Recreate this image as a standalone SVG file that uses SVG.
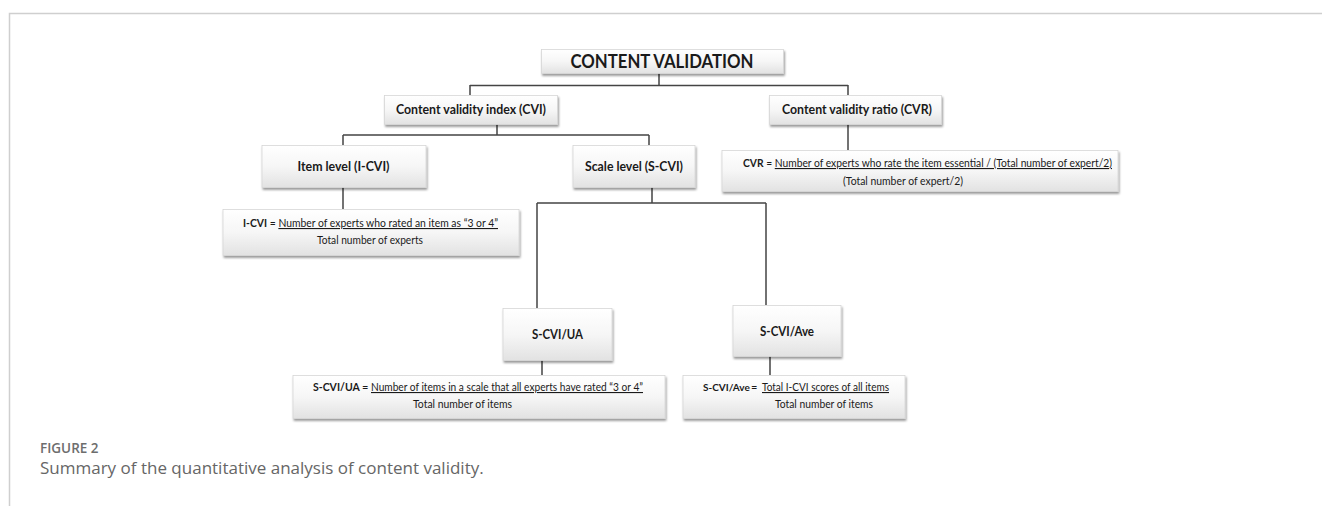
<svg xmlns="http://www.w3.org/2000/svg" width="1322" height="506" viewBox="0 0 1322 506">
<defs>
<linearGradient id="g" x1="0" y1="0" x2="0" y2="1">
<stop offset="0" stop-color="#ffffff"/>
<stop offset="0.5" stop-color="#f6f6f6"/>
<stop offset="1" stop-color="#e2e2e2"/>
</linearGradient>
<filter id="sh" x="-10%" y="-20%" width="120%" height="150%">
<feDropShadow dx="1" dy="2" stdDeviation="1" flood-color="#000" flood-opacity="0.4"/>
</filter>
</defs>
<style>
.box{fill:url(#g);stroke:#d6d6d6;stroke-width:0.8;filter:url(#sh)}
.h{font-family:Lato,"Open Sans",sans-serif;font-weight:bold;fill:#1a1a1a;text-anchor:middle}
.f{font-family:Lato,"Open Sans",sans-serif;font-size:11px;fill:#1a1a1a}
.b{font-weight:bold}
.u{text-decoration:underline}
.c{fill:none;stroke:#444;stroke-width:1.5}
.frame{fill:none;stroke:#cfcfcf;stroke-width:1.5}
.cap1{font-family:"Open Sans",sans-serif;font-size:13.5px;font-weight:600;fill:#6d6d6d}
.cap2{font-family:"Open Sans",sans-serif;font-size:17px;fill:#666}
</style>
<rect width="1322" height="506" fill="#fff"/>
<path class="frame" d="M9.5 506V13.5H1322"/>
<g id="connectors">
<path class="c" d="M659 73V85.5M470 85.5H848M470 85V95M848 85V95"/>
<path class="c" d="M497 124V135M343 135H649M343 135V145M649 135V145"/>
<path class="c" d="M848 124V150"/>
<path class="c" d="M343 187V209"/>
<path class="c" d="M652 187V203M537 203H766M537 203V308M766 203V305"/>
<path class="c" d="M542 360V375M770 356V375"/>
</g>
<g id="content-validation">
<rect class="box" x="541.5" y="49.5" width="242" height="24"/>
<text class="h" x="662" y="67.5" font-size="18" textLength="183" lengthAdjust="spacingAndGlyphs">CONTENT VALIDATION</text>
</g>
<g id="cvi">
<rect class="box" x="384.5" y="95.5" width="173" height="29"/>
<text class="h" x="471" y="113.5" font-size="13" textLength="150" lengthAdjust="spacingAndGlyphs">Content validity index (CVI)</text>
</g>
<g id="cvr">
<rect class="box" x="769.5" y="95.5" width="172" height="29"/>
<text class="h" x="857" y="113.5" font-size="13" textLength="150" lengthAdjust="spacingAndGlyphs">Content validity ratio (CVR)</text>
</g>
<g id="item-level">
<rect class="box" x="262" y="145.5" width="164" height="42"/>
<text class="h" x="343.5" y="170.5" font-size="13" textLength="92" lengthAdjust="spacingAndGlyphs">Item level (I-CVI)</text>
</g>
<g id="scale-level">
<rect class="box" x="573" y="145.5" width="122" height="42"/>
<text class="h" x="634" y="170.5" font-size="13" textLength="98" lengthAdjust="spacingAndGlyphs">Scale level (S-CVI)</text>
</g>
<g id="cvr-formula">
<rect class="box" x="722" y="150.5" width="396" height="41"/>
<text class="f" x="743" y="167" textLength="369" lengthAdjust="spacingAndGlyphs"><tspan class="b">CVR</tspan> = <tspan class="u">Number of experts who rate the item essential / (Total number of expert/2)</tspan></text>
<text class="f" x="843" y="185" textLength="120" lengthAdjust="spacingAndGlyphs">(Total number of expert/2)</text>
</g>
<g id="icvi-formula">
<rect class="box" x="223" y="209.5" width="296" height="46"/>
<text class="f" x="243" y="227" textLength="255" lengthAdjust="spacingAndGlyphs"><tspan class="b">I-CVI</tspan> = <tspan class="u">Number of experts who rated an item as “3 or 4”</tspan></text>
<text class="f" x="317" y="243.5" textLength="106" lengthAdjust="spacingAndGlyphs">Total number of experts</text>
</g>
<g id="scvi-ua">
<rect class="box" x="503" y="308.5" width="109" height="52"/>
<text class="h" x="557.5" y="338.5" font-size="13" textLength="51" lengthAdjust="spacingAndGlyphs">S-CVI/UA</text>
</g>
<g id="scvi-ave">
<rect class="box" x="733" y="305.5" width="108" height="51"/>
<text class="h" x="787" y="335.5" font-size="13" textLength="54" lengthAdjust="spacingAndGlyphs">S-CVI/Ave</text>
</g>
<g id="scvi-ua-formula">
<rect class="box" x="293" y="375.5" width="372" height="43"/>
<text class="f b" x="313" y="391" font-size="10.5" style="font-size:10.5px">S-CVI/UA</text>
<text class="f" x="362" y="391">=</text>
<text class="f u" x="371" y="391" textLength="272" lengthAdjust="spacingAndGlyphs">Number of items in a scale that all experts have rated “3 or 4”</text>
<text class="f" x="413" y="408" textLength="99" lengthAdjust="spacingAndGlyphs">Total number of items</text>
</g>
<g id="scvi-ave-formula">
<rect class="box" x="683" y="375.5" width="222" height="43"/>
<text class="f b" x="703" y="391" style="font-size:10px">S-CVI/Ave</text>
<text class="f" x="751" y="391">=</text>
<text class="f u" x="762" y="391" textLength="127" lengthAdjust="spacingAndGlyphs">Total I-CVI scores of all items</text>
<text class="f" x="775" y="408" textLength="98" lengthAdjust="spacingAndGlyphs">Total number of items</text>
</g>
<g id="caption">
<text class="cap1" x="40" y="453">FIGURE 2</text>
<text class="cap2" x="40" y="474">Summary of the quantitative analysis of content validity.</text>
</g>
</svg>
